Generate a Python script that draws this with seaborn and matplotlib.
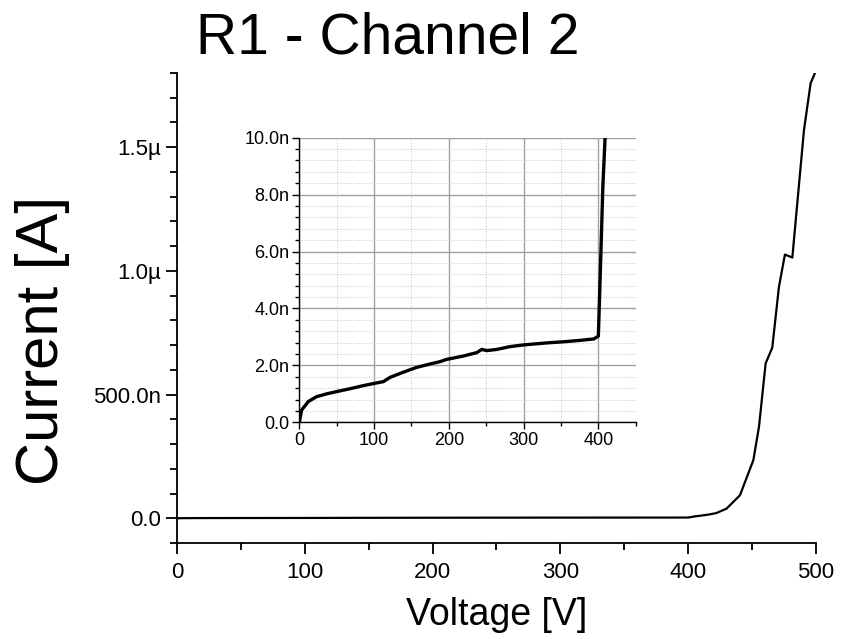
import numpy as np
import pandas as pd
import matplotlib
matplotlib.use("Agg")
import matplotlib.pyplot as plt
from matplotlib.ticker import MultipleLocator, FixedLocator, FixedFormatter
import seaborn as sns

# ---- data (voltage in V, current in A) ----
voltage = [0, 3.1, 12, 23, 36.6, 50, 67.9, 85.7, 99, 112.5, 121.4, 139, 157, 175,
           188, 197, 219.6, 237.5, 244, 251, 264, 282, 300, 331, 353.6, 376, 394,
           400, 402.7, 406, 409, 416, 422, 430, 440.5, 451, 455.4, 460.6, 465.8,
           471, 475.7, 481.5, 490.6, 495.8, 499.2]
current_nA = [0, 0.43, 0.73, 0.90, 1.00, 1.08, 1.18, 1.29, 1.36, 1.43, 1.58, 1.76,
              1.93, 2.05, 2.13, 2.21, 2.33, 2.45, 2.56, 2.52, 2.56, 2.66, 2.72, 2.79,
              2.83, 2.88, 2.93, 3.03, 5.35, 8.28, 10.0, 15, 21, 39, 93, 235, 370,
              626, 690, 935, 1066, 1054, 1569, 1758, 1800]
current = [c * 1e-9 for c in current_nA]

main_xticks = [0, 100, 200, 300, 400, 500]
main_yticks = [0.0, 500e-9, 1.0e-6, 1.5e-6]
main_yticklabels = ["0.0", "500.0n", "1.0\u00b5", "1.5\u00b5"]
inset_xticks = [0, 100, 200, 300, 400]
inset_yticks = [0, 2e-9, 4e-9, 6e-9, 8e-9, 10e-9]
inset_yticklabels = ["0.0", "2.0n", "4.0n", "6.0n", "8.0n", "10.0n"]

df = pd.DataFrame({"Voltage": voltage, "Current": current})

sns.set_style("ticks")
plt.rcParams["font.family"] = ["Liberation Sans", "DejaVu Sans"]
plt.rcParams["text.color"] = "black"
plt.rcParams["axes.labelcolor"] = "black"

fig = plt.figure(figsize=(8.53, 6.39), dpi=100)
ax = fig.add_axes([0.2075, 0.1502, 0.9566 - 0.2075, 0.8858 - 0.1502])

sns.lineplot(data=df, x="Voltage", y="Current", ax=ax, color="black",
             linewidth=1.6, sort=False, estimator=None)
ax.set_xlim(0, 500)
ax.set_ylim(-0.1e-6, 1.8e-6)
ax.xaxis.set_major_locator(FixedLocator(main_xticks))
ax.xaxis.set_minor_locator(MultipleLocator(50))
ax.yaxis.set_major_locator(FixedLocator(main_yticks))
ax.yaxis.set_major_formatter(FixedFormatter(main_yticklabels))
ax.yaxis.set_minor_locator(MultipleLocator(0.1e-6))
ax.tick_params(which="major", direction="out", length=8, width=1.3,
               labelsize=16, colors="black")
ax.tick_params(axis="x", which="major", pad=6)
ax.tick_params(which="minor", direction="out", length=5, width=1.3, colors="black")
for s in ["top", "right"]:
    ax.spines[s].set_visible(False)
for s in ["left", "bottom"]:
    ax.spines[s].set_linewidth(1.3)
    ax.spines[s].set_color("black")
ax.set_xlabel("Voltage [V]", fontsize=27, color="black")
ax.xaxis.set_label_coords(0.5, -0.115)
ax.set_ylabel("Current [A]", fontsize=43, color="black")
ax.yaxis.set_label_coords(-0.167, 0.43)
fig.text(0.454, 0.917, "R1 - Channel 2", fontsize=41, ha="center",
         va="baseline", color="black")

# ---- inset ----
axi = fig.add_axes([0.3509, 0.3391, 0.7453 - 0.3509, 0.7845 - 0.3391])
sns.lineplot(data=df, x="Voltage", y="Current", ax=axi, color="black",
             linewidth=2.4, sort=False, estimator=None, zorder=5)
axi.set_xlim(0, 450)
axi.set_ylim(0, 10e-9)
axi.xaxis.set_major_locator(FixedLocator(inset_xticks))
axi.xaxis.set_minor_locator(MultipleLocator(50))
axi.yaxis.set_major_locator(FixedLocator(inset_yticks))
axi.yaxis.set_major_formatter(FixedFormatter(inset_yticklabels))
axi.yaxis.set_minor_locator(MultipleLocator(0.4e-9))
axi.tick_params(which="major", direction="out", length=5, width=1.0,
                labelsize=13, colors="black", pad=2)
axi.tick_params(which="minor", direction="out", length=3, width=1.0, colors="black")
axi.grid(which="major", color="#a0a0a0", linewidth=1.0, linestyle="-")
axi.grid(which="minor", color="#c8c8c8", linewidth=0.7, linestyle=":")
axi.set_axisbelow(True)
for s in ["top", "right"]:
    axi.spines[s].set_visible(False)
for s in ["left", "bottom"]:
    axi.spines[s].set_linewidth(1.0)
    axi.spines[s].set_color("black")
axi.set_xlabel("")
axi.set_ylabel("")
axi.patch.set_alpha(0)

fig.savefig("out.png", dpi=100)
